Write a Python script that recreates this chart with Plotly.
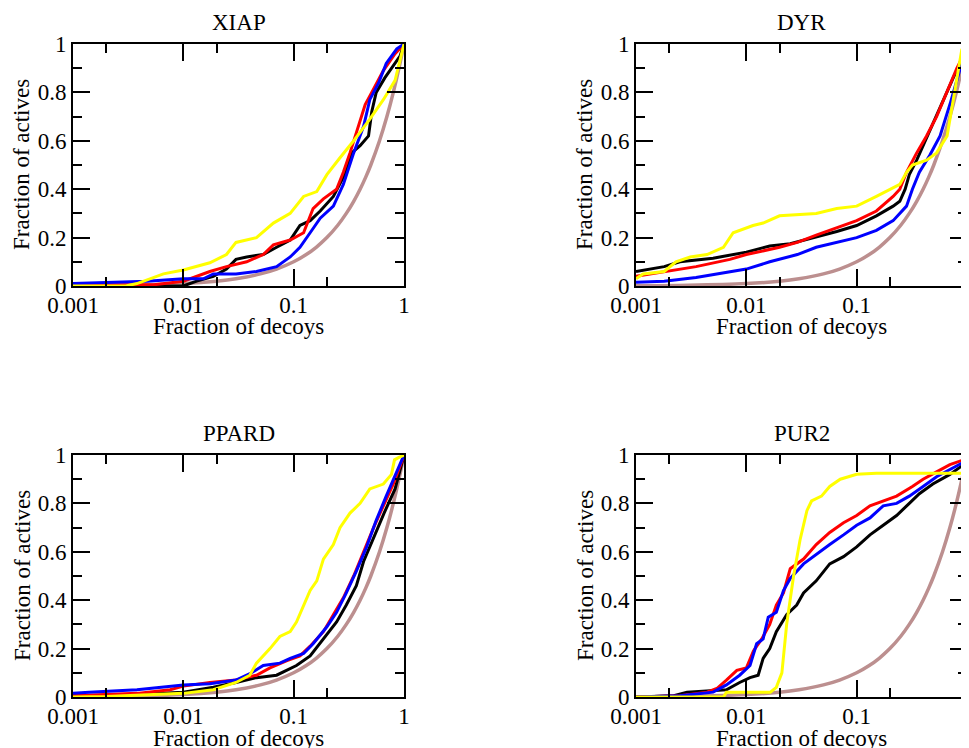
import plotly.graph_objects as go

# ---- data (fraction of decoys vs fraction of actives) ----
panel_names = ["XIAP", "DYR", "PPARD", "PUR2"]

# random line (diagonal, drawn on log x)
brown_x = [0.001, 0.003, 0.01, 0.02, 0.03, 0.05, 0.07, 0.1, 0.13, 0.16, 0.2, 0.25,
           0.3, 0.35, 0.4, 0.45, 0.5, 0.6, 0.7, 0.8, 0.9, 1.0]
brown_y = [0.001, 0.003, 0.01, 0.02, 0.03, 0.05, 0.07, 0.1, 0.13, 0.16, 0.2, 0.25,
           0.3, 0.35, 0.4, 0.45, 0.5, 0.6, 0.7, 0.8, 0.9, 1.0]

# XIAP
xiap_black_x = [0.001, 0.01, 0.0132, 0.0187, 0.0246, 0.030, 0.0375, 0.053, 0.070, 0.093, 0.114,
                0.141, 0.174, 0.229, 0.282, 0.336, 0.40, 0.477, 0.51, 0.56, 0.67, 0.83, 0.92, 1.0]
xiap_black_y = [0.0, 0.0, 0.02, 0.04, 0.07, 0.11, 0.12, 0.13, 0.16, 0.19, 0.25,
                0.27, 0.31, 0.37, 0.45, 0.55, 0.58, 0.62, 0.72, 0.80, 0.86, 0.92, 0.95, 1.0]
xiap_red_x = [0.001, 0.0054, 0.01, 0.0174, 0.0246, 0.0375, 0.053, 0.0655, 0.093, 0.123, 0.15,
              0.186, 0.245, 0.282, 0.324, 0.37, 0.445, 0.51, 0.65, 0.83, 1.0]
xiap_red_y = [0.005, 0.005, 0.02, 0.06, 0.08, 0.10, 0.13, 0.17, 0.19, 0.22, 0.32,
              0.36, 0.40, 0.47, 0.55, 0.63, 0.75, 0.80, 0.89, 0.96, 1.0]
xiap_blue_x = [0.001, 0.0047, 0.01, 0.0152, 0.0187, 0.030, 0.046, 0.070, 0.093, 0.114, 0.141,
               0.174, 0.229, 0.282, 0.35, 0.43, 0.49, 0.59, 0.69, 0.86, 1.0]
xiap_blue_y = [0.01, 0.02, 0.03, 0.03, 0.05, 0.05, 0.06, 0.08, 0.12, 0.16, 0.22,
               0.28, 0.33, 0.42, 0.55, 0.66, 0.77, 0.84, 0.92, 0.98, 1.0]
xiap_yellow_x = [0.001, 0.0030, 0.0038, 0.0066, 0.01, 0.0174, 0.0246, 0.030, 0.046, 0.0655,
                 0.093, 0.123, 0.162, 0.20, 0.263, 0.35, 0.49, 0.65, 0.83, 1.0]
xiap_yellow_y = [0.0, 0.0, 0.01, 0.05, 0.066, 0.096, 0.13, 0.18, 0.20, 0.26,
                 0.30, 0.37, 0.39, 0.46, 0.53, 0.60, 0.69, 0.77, 0.85, 1.0]

# DYR
dyr_black_x = [0.001, 0.0018, 0.0025, 0.005, 0.01, 0.0163, 0.025, 0.041, 0.066, 0.1, 0.151,
               0.214, 0.246, 0.275, 0.30, 0.35, 0.40, 0.49, 0.61, 0.75, 0.93, 1.0]
dyr_black_y = [0.06, 0.08, 0.10, 0.115, 0.14, 0.165, 0.175, 0.20, 0.225, 0.25, 0.29,
               0.33, 0.35, 0.40, 0.46, 0.52, 0.58, 0.67, 0.77, 0.86, 0.94, 1.0]
dyr_red_x = [0.001, 0.0018, 0.0035, 0.0071, 0.01, 0.020, 0.029, 0.043, 0.066, 0.1, 0.151,
             0.214, 0.246, 0.283, 0.35, 0.43, 0.53, 0.66, 0.81, 0.92, 1.0]
dyr_red_y = [0.04, 0.06, 0.08, 0.11, 0.13, 0.16, 0.18, 0.21, 0.24, 0.27, 0.31,
             0.37, 0.40, 0.47, 0.55, 0.62, 0.70, 0.80, 0.90, 0.95, 1.0]
dyr_blue_x = [0.001, 0.0018, 0.0035, 0.0071, 0.01, 0.0163, 0.029, 0.043, 0.066, 0.1, 0.151,
              0.214, 0.283, 0.32, 0.37, 0.46, 0.57, 0.71, 0.87, 1.0]
dyr_blue_y = [0.015, 0.02, 0.035, 0.06, 0.07, 0.10, 0.13, 0.16, 0.18, 0.20, 0.23,
              0.27, 0.33, 0.40, 0.47, 0.54, 0.62, 0.76, 0.90, 1.0]
dyr_yellow_x = [0.001, 0.00116, 0.0018, 0.0023, 0.0031, 0.0044, 0.0062, 0.0076, 0.0115, 0.0142,
                0.020, 0.043, 0.066, 0.1, 0.151, 0.20, 0.246, 0.283, 0.32, 0.43, 0.53, 0.66,
                0.77, 0.90]
dyr_yellow_y = [0.03, 0.05, 0.06, 0.10, 0.12, 0.13, 0.16, 0.22, 0.25, 0.26,
                0.29, 0.30, 0.32, 0.33, 0.37, 0.40, 0.42, 0.47, 0.50, 0.52, 0.55, 0.62,
                0.80, 0.98]

# PPARD
ppard_black_x = [0.001, 0.003, 0.01, 0.0187, 0.030, 0.046, 0.070, 0.106, 0.141, 0.186, 0.245,
                 0.30, 0.37, 0.43, 0.53, 0.66, 0.83, 0.95, 1.0]
ppard_black_y = [0.005, 0.008, 0.02, 0.04, 0.06, 0.08, 0.09, 0.13, 0.17, 0.24, 0.31,
                 0.38, 0.46, 0.56, 0.66, 0.76, 0.86, 0.96, 1.0]
ppard_red_x = [0.001, 0.002, 0.0038, 0.0076, 0.01, 0.0174, 0.030, 0.046, 0.061, 0.087, 0.114,
               0.141, 0.186, 0.229, 0.282, 0.35, 0.43, 0.53, 0.65, 0.80, 0.95, 1.0]
ppard_red_y = [0.005, 0.01, 0.015, 0.03, 0.045, 0.06, 0.07, 0.09, 0.12, 0.15, 0.17,
               0.21, 0.27, 0.34, 0.41, 0.50, 0.60, 0.70, 0.79, 0.88, 0.97, 1.0]
ppard_blue_x = [0.001, 0.0014, 0.0038, 0.0066, 0.01, 0.0174, 0.030, 0.0415, 0.053, 0.075, 0.093,
                0.123, 0.15, 0.20, 0.245, 0.30, 0.37, 0.458, 0.56, 0.69, 0.86, 1.0]
ppard_blue_y = [0.015, 0.02, 0.03, 0.04, 0.05, 0.055, 0.07, 0.10, 0.13, 0.14, 0.16,
                0.18, 0.22, 0.29, 0.35, 0.43, 0.52, 0.62, 0.73, 0.83, 0.93, 1.0]
ppard_yellow_x = [0.001, 0.002, 0.01, 0.0187, 0.030, 0.040, 0.046, 0.061, 0.075, 0.093, 0.106,
                  0.123, 0.141, 0.162, 0.186, 0.229, 0.263, 0.324, 0.40, 0.49, 0.65, 0.77,
                  0.82, 0.90, 1.0]
ppard_yellow_y = [0.0, 0.002, 0.015, 0.03, 0.06, 0.09, 0.14, 0.20, 0.25, 0.27, 0.31,
                  0.38, 0.44, 0.48, 0.57, 0.63, 0.70, 0.76, 0.80, 0.86, 0.88, 0.92,
                  0.98, 0.99, 1.0]

# PUR2
pur2_black_x = [0.001, 0.0022, 0.0029, 0.005, 0.0066, 0.0087, 0.0108, 0.0128, 0.0142, 0.0163,
                0.0187, 0.0232, 0.0286, 0.033, 0.043, 0.057, 0.076, 0.1, 0.132, 0.174, 0.23,
                0.30, 0.37, 0.49, 0.70, 0.93, 1.0]
pur2_black_y = [0.0, 0.005, 0.02, 0.025, 0.03, 0.06, 0.08, 0.09, 0.16, 0.20,
                0.27, 0.34, 0.38, 0.43, 0.48, 0.55, 0.58, 0.62, 0.67, 0.71, 0.75,
                0.80, 0.84, 0.88, 0.92, 0.96, 1.0]
pur2_red_x = [0.001, 0.0025, 0.0044, 0.0054, 0.0066, 0.0082, 0.01, 0.0116, 0.0138, 0.0163,
              0.0187, 0.0217, 0.025, 0.033, 0.043, 0.057, 0.076, 0.1, 0.132, 0.174, 0.23,
              0.32, 0.40, 0.53, 0.70, 0.93, 1.0]
pur2_red_y = [0.0, 0.005, 0.02, 0.035, 0.07, 0.11, 0.12, 0.19, 0.24, 0.30,
              0.38, 0.43, 0.53, 0.57, 0.63, 0.68, 0.72, 0.75, 0.79, 0.81, 0.83,
              0.87, 0.90, 0.93, 0.96, 0.98, 1.0]
pur2_blue_x = [0.001, 0.0025, 0.005, 0.0066, 0.0087, 0.0108, 0.0124, 0.0142, 0.0158, 0.0187,
               0.0217, 0.025, 0.033, 0.043, 0.057, 0.076, 0.1, 0.132, 0.174, 0.23, 0.30,
               0.40, 0.53, 0.70, 0.93, 1.0]
pur2_blue_y = [0.0, 0.005, 0.02, 0.05, 0.09, 0.13, 0.22, 0.24, 0.33, 0.35,
               0.44, 0.49, 0.55, 0.59, 0.63, 0.67, 0.71, 0.74, 0.79, 0.80, 0.83,
               0.87, 0.91, 0.94, 0.97, 1.0]
pur2_yellow_x = [0.001, 0.0062, 0.0066, 0.0165, 0.0187, 0.021, 0.0232, 0.0268, 0.0307, 0.0354,
                 0.039, 0.048, 0.057, 0.071, 0.1, 0.151, 0.95]
pur2_yellow_y = [0.0, 0.0, 0.02, 0.02, 0.04, 0.10, 0.30, 0.50, 0.65, 0.77,
                 0.81, 0.83, 0.87, 0.90, 0.92, 0.925, 0.925]

x_tickvals = [0.001, 0.01, 0.1, 1]
x_ticktext = ["0.001", "0.01", "0.1", "1"]
y_tickvals = [0, 0.2, 0.4, 0.6, 0.8, 1.0]
y_ticktext = ["0", "0.2", "0.4", "0.6", "0.8", "1"]

colors = {"black": "#000000", "red": "#ff0000", "blue": "#0000ff",
          "yellow": "#ffff00", "brown": "#bc8f8f"}

series = [
    [(xiap_black_x, xiap_black_y), (xiap_red_x, xiap_red_y), (xiap_blue_x, xiap_blue_y), (xiap_yellow_x, xiap_yellow_y)],
    [(dyr_black_x, dyr_black_y), (dyr_red_x, dyr_red_y), (dyr_blue_x, dyr_blue_y), (dyr_yellow_x, dyr_yellow_y)],
    [(ppard_black_x, ppard_black_y), (ppard_red_x, ppard_red_y), (ppard_blue_x, ppard_blue_y), (ppard_yellow_x, ppard_yellow_y)],
    [(pur2_black_x, pur2_black_y), (pur2_red_x, pur2_red_y), (pur2_blue_x, pur2_blue_y), (pur2_yellow_x, pur2_yellow_y)],
]

# page is 969x748 but the figure div sits 8px in (default body margin)
OFF = 8
W, H = 969 - OFF, 748 - OFF
FONT = "Liberation Serif"
FS = 23


def px(x):
    return (x - OFF) / W


def py(y):
    return 1 - (y - OFF) / H


# plot boxes in page pixels: (left, right, top, bottom)
boxes = [(73, 404, 44, 286), (636, 967, 44, 286),
         (73, 404, 455, 697), (636, 967, 455, 697)]

fig = go.Figure()

for i, (name, box) in enumerate(zip(panel_names, boxes)):
    n = "" if i == 0 else str(i + 1)
    xa, ya = "x" + n, "y" + n
    fig.add_trace(go.Scatter(x=brown_x, y=brown_y, mode="lines", xaxis=xa, yaxis=ya,
                             line=dict(color=colors["brown"], width=3.5, shape="spline"),
                             showlegend=False))
    for (sx, sy), c in zip(series[i], ["black", "red", "blue", "yellow"]):
        fig.add_trace(go.Scatter(x=sx, y=sy, mode="lines", xaxis=xa, yaxis=ya,
                                 line=dict(color=colors[c], width=3),
                                 showlegend=False))

    l, r, t, b = box
    common = dict(showline=True, linecolor="black", linewidth=2, mirror="allticks",
                  ticks="inside", ticklen=17, tickwidth=2, tickcolor="black",
                  showgrid=False, zeroline=False, automargin=False,
                  ticklabeloverflow="allow",
                  tickfont=dict(family=FONT, size=FS, color="black"))
    fig.layout["xaxis" + n] = dict(
        type="log", range=[-3, 0], domain=[px(l), px(r)], anchor=ya,
        tickmode="array", tickvals=x_tickvals, ticktext=x_ticktext,
        ticklabelstandoff=-3,
        minor=dict(tickvals=[0.002, 0.02, 0.2], ticks="inside", ticklen=9,
                   tickwidth=2, tickcolor="black"),
        **common)
    fig.layout["yaxis" + n] = dict(
        range=[0, 1], domain=[py(b), py(t)], anchor=xa,
        tickmode="array", tickvals=y_tickvals, ticktext=y_ticktext,
        minor=dict(tickvals=[0.1, 0.3, 0.5, 0.7, 0.9], ticks="inside", ticklen=9,
                   tickwidth=2, tickcolor="black"),
        **common)

    cx = (l + r) / 2
    cy = (t + b) / 2
    txt = dict(xref="paper", yref="paper", showarrow=False, xanchor="center",
               yanchor="middle", font=dict(family=FONT, size=FS, color="black"))
    fig.add_annotation(text=name, x=px(cx), y=py(t - 22), **txt)
    fig.add_annotation(text="Fraction of decoys", x=px(cx), y=py(b + 41), **txt)
    fig.add_annotation(text="Fraction of actives", x=px(l - 51), y=py(cy),
                       textangle=-90, **txt)

fig.update_layout(width=W, height=H, margin=dict(l=0, r=0, t=0, b=0),
                  plot_bgcolor="white", paper_bgcolor="white", showlegend=False)

fig.write_html("out.html")
